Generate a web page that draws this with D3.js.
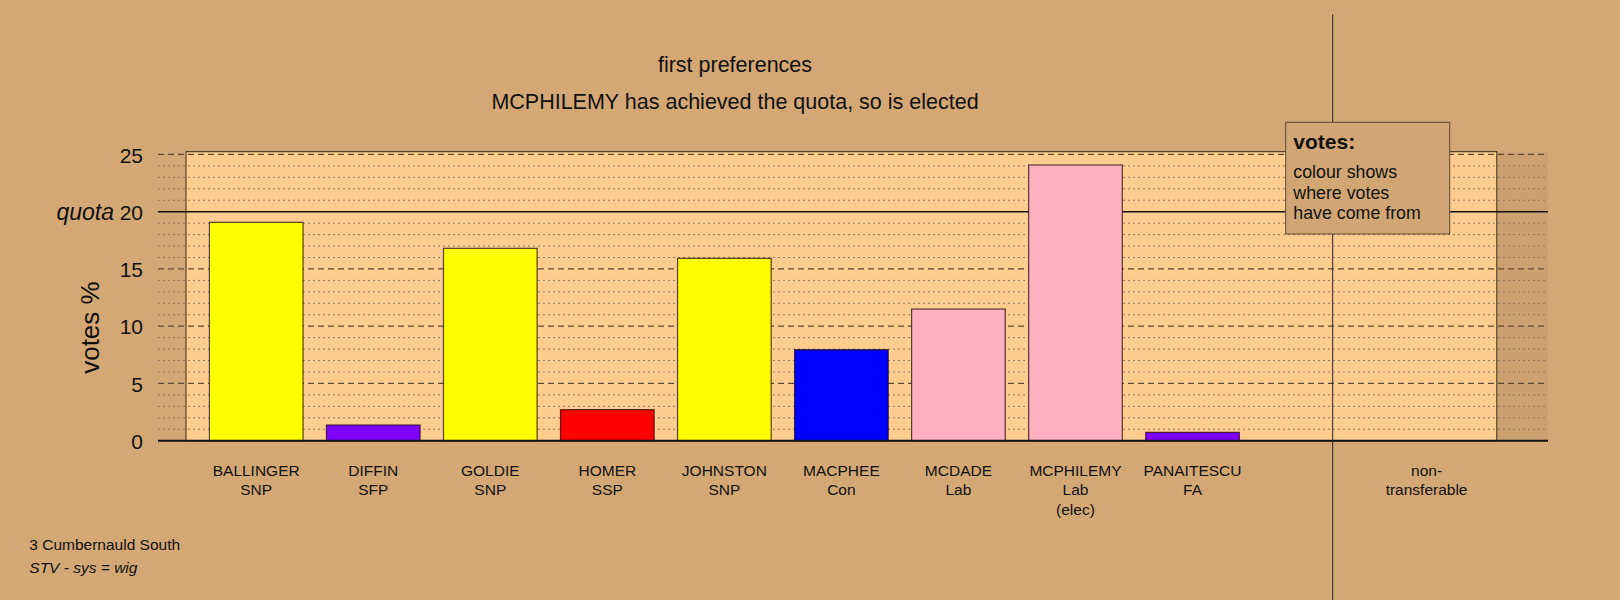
<!DOCTYPE html>
<html>
<head>
<meta charset="utf-8">
<script src="https://cdn.jsdelivr.net/npm/d3@7"></script>
<style>
  html, body { margin: 0; padding: 0; background: #D4A875; }
  svg { display: block; }
  text { font-family: "Liberation Sans", Arial, Helvetica, sans-serif; fill: #111; }
</style>
</head>
<body>
<svg id="chart" width="1620" height="600"></svg>
<script>
// ---- data ----
const candidates = ["BALLINGER", "DIFFIN", "GOLDIE", "HOMER", "JOHNSTON", "MACPHEE", "MCDADE", "MCPHILEMY", "PANAITESCU"];
const parties    = ["SNP", "SFP", "SNP", "SSP", "SNP", "Con", "Lab", "Lab", "FA"];
const notes      = ["", "", "", "", "", "", "", "(elec)", ""];
const votes      = [19.07, 1.37, 16.8, 2.71, 15.93, 7.95, 11.5, 24.08, 0.73];
const colours    = ["#FFFF00", "#8000FF", "#FFFF00", "#FF0000", "#FFFF00", "#0000FF", "#FFB0C0", "#FFB0C0", "#8000FF"];
const extraSlots = ["(gap)", "non-transferable"];
const nonTransferableLabel = ["non-", "transferable"];
const majorTicks = [0, 5, 10, 15, 20, 25];
const minorTicks = [1,2,3,4,6,7,8,9,11,12,13,14,16,17,18,19,21,22,23,24];
const quota = 20;
const titleLines = ["first preferences", "MCPHILEMY has achieved the quota, so is elected"];
const legendTitle = "votes:";
const legendLines = ["colour shows", "where votes", "have come from"];
const footerLines = ["3 Cumbernauld South", "STV - sys = wig"];
const yLabel = "votes %";

// ---- layout ----
const svg = d3.select("#chart");
const panelLeft = 186, panelRight = 1496.8, panelTop = 151.7, baseY = 440.7;
const gridLeft = 158, gridRight = 1548;

const x = d3.scaleBand()
  .domain(candidates.concat(extraSlots))
  .range([panelLeft, panelRight])
  .paddingInner(0.2)
  .paddingOuter(0.2);

const y = d3.scaleLinear().domain([0, 25.24]).range([baseY, panelTop]);

// background
svg.append("rect").attr("width", 1620).attr("height", 600).attr("fill", "#D4A875");

// darker strip right of panel
svg.append("rect")
  .attr("x", panelRight).attr("y", panelTop)
  .attr("width", gridRight - panelRight).attr("height", baseY - panelTop)
  .attr("fill", "#CDA070");

// panel
svg.append("rect")
  .attr("x", panelLeft).attr("y", panelTop)
  .attr("width", panelRight - panelLeft).attr("height", baseY - panelTop)
  .attr("fill", "#FFCC90")
  .attr("stroke", "#3a2a1a").attr("stroke-width", 1);

// minor grid (dotted)
svg.append("g").selectAll("line").data(minorTicks).join("line")
  .attr("x1", gridLeft).attr("x2", gridRight)
  .attr("y1", d => y(d)).attr("y2", d => y(d))
  .attr("stroke", "#8c7a62").attr("stroke-width", 1)
  .attr("stroke-dasharray", "2,3");

// major grid (dashed), excluding 0 and quota
svg.append("g").selectAll("line").data(majorTicks.filter(d => d !== 0 && d !== quota)).join("line")
  .attr("x1", gridLeft).attr("x2", gridRight)
  .attr("y1", d => y(d)).attr("y2", d => y(d))
  .attr("stroke", "#5e4a30").attr("stroke-width", 1.2)
  .attr("stroke-dasharray", "6,4");

// quota line
svg.append("line")
  .attr("x1", gridLeft).attr("x2", gridRight)
  .attr("y1", y(quota)).attr("y2", y(quota))
  .attr("stroke", "#111").attr("stroke-width", 1.5);

// bars
svg.append("g").selectAll("rect").data(candidates).join("rect")
  .attr("x", d => x(d))
  .attr("width", x.bandwidth())
  .attr("y", (d, i) => y(votes[i]))
  .attr("height", (d, i) => baseY - y(votes[i]))
  .attr("fill", (d, i) => colours[i])
  .attr("stroke", "rgba(30,10,10,0.75)").attr("stroke-width", 1.2);

// baseline
svg.append("line")
  .attr("x1", gridLeft).attr("x2", gridRight)
  .attr("y1", y(0)).attr("y2", y(0))
  .attr("stroke", "#111").attr("stroke-width", 2);

// y axis tick labels
const yAxis = d3.axisLeft(y).tickValues(majorTicks).tickSize(0).tickPadding(0).tickFormat(d3.format("d"));
const gy = svg.append("g").attr("transform", "translate(143,0)").call(yAxis);
gy.select(".domain").remove();
gy.selectAll("text")
  .attr("font-size", 21).attr("fill", "#111")
  .attr("font-family", "'Liberation Sans', Arial, sans-serif")
  .attr("dy", "0.36em");

// quota label
svg.append("text")
  .attr("x", 114).attr("y", y(quota)).attr("dy", "0.36em")
  .attr("text-anchor", "end")
  .attr("font-size", 23).attr("font-style", "italic")
  .text("quota");

// y label
svg.append("text")
  .attr("transform", `translate(99,${(y(0) + y(25)) / 2 + 30}) rotate(-90)`)
  .attr("text-anchor", "middle")
  .attr("font-size", 26)
  .text(yLabel);

// category labels
const labelG = svg.append("g");
candidates.forEach((c, i) => {
  const cx = x(c) + x.bandwidth() / 2;
  const lines = [c, parties[i]].concat(notes[i] ? [notes[i]] : []);
  lines.forEach((t, j) => {
    labelG.append("text")
      .attr("x", cx).attr("y", 475.5 + j * 19.5)
      .attr("text-anchor", "middle").attr("font-size", 15.5)
      .text(t);
  });
});
nonTransferableLabel.forEach((t, j) => {
  labelG.append("text")
    .attr("x", x("non-transferable") + x.bandwidth() / 2).attr("y", 475.5 + j * 19.5)
    .attr("text-anchor", "middle").attr("font-size", 15.5)
    .text(t);
});

// vertical separator line
svg.append("line")
  .attr("x1", 1332.7).attr("x2", 1332.7).attr("y1", 14.5).attr("y2", 600)
  .attr("stroke", "#222").attr("stroke-width", 1);

// titles
svg.append("text").attr("x", 735).attr("y", 71.5).attr("text-anchor", "middle")
  .attr("font-size", 21.5).text(titleLines[0]);
svg.append("text").attr("x", 735).attr("y", 108.5).attr("text-anchor", "middle")
  .attr("font-size", 21.5).text(titleLines[1]);

// legend box
const lg = svg.append("g");
lg.append("rect")
  .attr("x", 1285.7).attr("y", 122.3).attr("width", 164).attr("height", 111.7)
  .attr("fill", "#D2A674").attr("stroke", "#5a4a38").attr("stroke-width", 1);
lg.append("text").attr("x", 1293.3).attr("y", 148.5)
  .attr("font-size", 21).attr("font-weight", "bold").text(legendTitle);
legendLines.forEach((t, j) => {
  lg.append("text").attr("x", 1293.3).attr("y", 178.3 + j * 20.2)
    .attr("font-size", 17.8).text(t);
});

// footer
svg.append("text").attr("x", 29.3).attr("y", 550).attr("font-size", 15.5).text(footerLines[0]);
svg.append("text").attr("x", 29.3).attr("y", 573).attr("font-size", 15.5)
  .attr("font-style", "italic").text(footerLines[1]);
</script>
</body>
</html>
